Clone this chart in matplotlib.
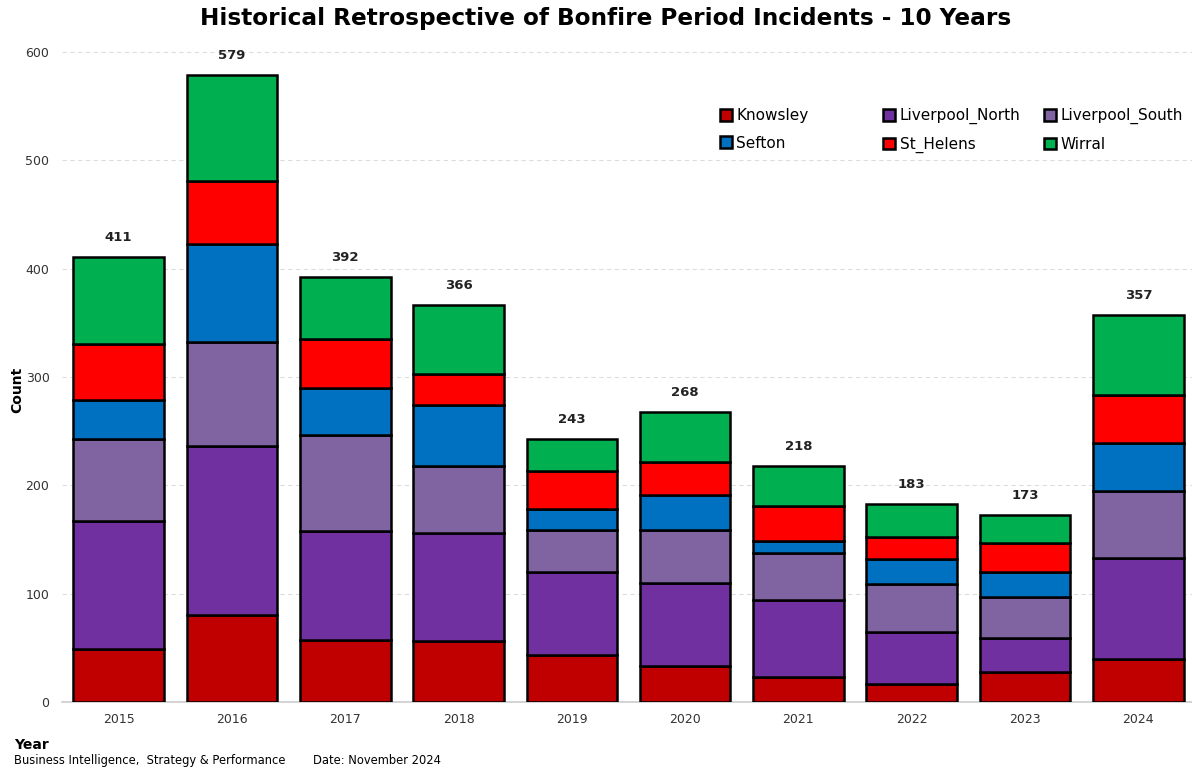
import matplotlib
matplotlib.use("Agg")
import matplotlib.pyplot as plt
import numpy as np

# data
years = ["2015", "2016", "2017", "2018", "2019", "2020", "2021", "2022", "2023", "2024"]
knowsley = [49, 80, 57, 56, 43, 33, 23, 17, 28, 40]
liverpool_north = [118, 156, 101, 100, 77, 77, 71, 48, 31, 93]
liverpool_south = [76, 96, 88, 62, 39, 49, 44, 44, 38, 62]
sefton = [36, 91, 44, 56, 19, 32, 11, 23, 23, 44]
st_helens = [51, 58, 45, 29, 35, 31, 32, 20, 27, 44]
wirral = [81, 98, 57, 63, 30, 46, 37, 31, 26, 74]

areas = ["Knowsley", "Liverpool_North", "Liverpool_South", "Sefton", "St_Helens", "Wirral"]
series = [knowsley, liverpool_north, liverpool_south, sefton, st_helens, wirral]
colors = ["#C00000", "#7030A0", "#8064A2", "#0070C0", "#FF0000", "#00B050"]

fig = plt.figure(figsize=(11.92, 7.69), dpi=100)
ax = fig.add_axes([0.052, 0.0871, 0.9505, 0.8735])

x = np.arange(len(years))
bottom = np.zeros(len(years))
handles = []
for name, vals, col in zip(areas, series, colors):
    b = ax.bar(x, vals, 0.8, bottom=bottom, color=col, edgecolor="black",
               linewidth=1.8, label=name, zorder=3)
    handles.append(b)
    bottom += np.array(vals)

# totals above bars
for xi, tot in zip(x, bottom):
    ax.text(xi, tot + 12, str(int(tot)), ha="center", va="bottom",
            fontsize=9.5, fontweight="bold", color="#222222")

ax.set_xlim(-0.5, len(years) - 0.5)
ax.set_ylim(0, 620)
ax.set_yticks(range(0, 601, 100))
ax.set_xticks(x)
ax.set_xticklabels(years)
ax.tick_params(axis="both", length=0, labelsize=9, colors="#333333")
ax.tick_params(axis="x", pad=8)
ax.tick_params(axis="y", pad=9)
ax.grid(axis="y", color="#DDDDDD", linestyle=(0, (4, 3)), linewidth=0.8, zorder=0)
for s in ["top", "right", "left"]:
    ax.spines[s].set_visible(False)
ax.spines["bottom"].set_color("#CCCCCC")
ax.spines["bottom"].set_linewidth(1.2)

ax.set_ylabel("Count", fontsize=10, fontweight="bold")
ax.yaxis.set_label_coords(-0.033, 0.465)

# legend: three fixed-width columns, filled row by row
col_x = [0.575, 0.719, 0.8615]
for c in range(3):
    hs = [handles[c], handles[c + 3]]
    ls = [areas[c], areas[c + 3]]
    leg = ax.legend(hs, ls, loc="upper left", bbox_to_anchor=(col_x[c], 0.893),
                    frameon=False, fontsize=11, handlelength=0.8, handleheight=0.8,
                    handletextpad=0.3, labelspacing=0.8, borderaxespad=0)
    if c < 2:
        ax.add_artist(leg)

fig.text(0.508, 0.976, "Historical Retrospective of Bonfire Period Incidents - 10 Years",
         ha="center", va="center", fontsize=16.7, fontweight="bold")
fig.text(0.012, 0.031, "Year", fontsize=10, fontweight="bold", va="center")
fig.text(0.012, 0.011, "Business Intelligence,  Strategy & Performance", fontsize=8.3, va="center")
fig.text(0.263, 0.011, "Date: November 2024", fontsize=8.3, va="center")

fig.savefig("out.png", dpi=100)
